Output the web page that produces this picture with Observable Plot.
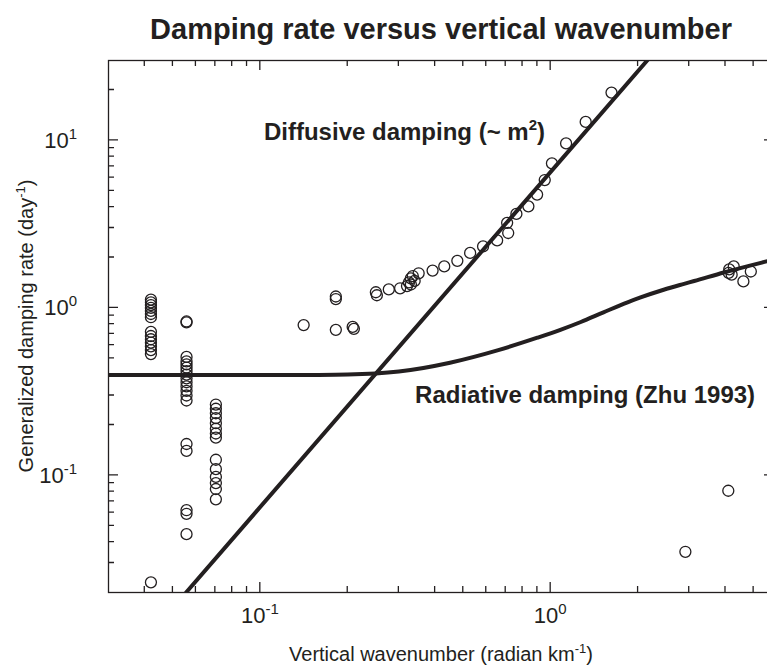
<!DOCTYPE html>
<html>
<head>
<meta charset="utf-8">
<script src="https://cdn.jsdelivr.net/npm/d3@7"></script>
<script src="https://cdn.jsdelivr.net/npm/@observablehq/plot@0.6"></script>
<style>
  html, body { margin: 0; padding: 0; background: #fff; overflow: hidden; }
  #chart { width: 767px; height: 669px; overflow: hidden; }
</style>
</head>
<body>
<div id="chart"></div>
<script>
// Generalized damping rate (day^-1) against vertical wavenumber m (radian km^-1)

// Low-wavenumber estimates, stacked in three columns of equal m
const columnWavenumbers = [0.042, 0.0557, 0.0703];
const columnA = [1.12, 1.08, 1.04, 1.0, 0.96, 0.92, 0.88, 0.72, 0.68, 0.65, 0.62, 0.59, 0.56, 0.53, 0.023];
const columnB = [0.83, 0.82, 0.51, 0.48, 0.46, 0.44, 0.42, 0.40, 0.38, 0.36, 0.34, 0.32, 0.30, 0.28, 0.154, 0.14, 0.062, 0.059, 0.0446];
const columnC = [0.265, 0.25, 0.235, 0.22, 0.205, 0.19, 0.178, 0.168, 0.124, 0.109, 0.098, 0.09, 0.083, 0.072];

// Mid-range estimates following the m^2 line
const midWavenumber = [0.141, 0.182, 0.182, 0.182, 0.208, 0.21, 0.25, 0.252, 0.277, 0.303, 0.32, 0.325, 0.33, 0.335, 0.33, 0.34, 0.351, 0.392, 0.43, 0.477, 0.528, 0.585, 0.654, 0.714, 0.708, 0.762, 0.838, 0.898, 0.954, 1.01, 1.13, 1.32, 1.62];
const midRate = [0.79, 1.17, 1.13, 0.74, 0.77, 0.75, 1.24, 1.19, 1.29, 1.31, 1.35, 1.42, 1.5, 1.55, 1.38, 1.45, 1.61, 1.67, 1.77, 1.91, 2.13, 2.33, 2.53, 2.8, 3.22, 3.64, 4.04, 4.75, 5.8, 7.3, 9.6, 12.9, 19.3];

// High-wavenumber estimates
const highWavenumber = [4.27, 4.1, 4.2, 4.89, 4.61, 4.12, 4.09, 2.91];
const highRate = [1.77, 1.62, 1.58, 1.65, 1.44, 1.7, 0.081, 0.035];

// Radiative damping curve (Zhu 1993)
const radiativeWavenumber = [0.03, 0.1, 0.15, 0.2, 0.3, 0.45, 0.66, 0.9, 1.08, 1.27, 1.52, 1.84, 2.04, 2.45, 2.88, 3.12, 3.95, 5.6, 5.9];
const radiativeRate = [0.397, 0.397, 0.398, 0.40, 0.417, 0.471, 0.56, 0.664, 0.74, 0.824, 0.941, 1.08, 1.155, 1.284, 1.392, 1.447, 1.628, 1.905, 1.949];

// Diffusive damping, proportional to m^2 (end points)
const diffusiveWavenumber = [0.0555, 2.15];
const diffusiveRate = [0.02, 30];

// Axis ticks
const xMajor = [0.1, 1];
const xMinor = [0.04, 0.05, 0.06, 0.07, 0.08, 0.09, 0.2, 0.3, 0.4, 0.5, 0.6, 0.7, 0.8, 0.9, 2, 3, 4, 5];
const yMajor = [0.1, 1, 10];
const yMinor = [0.03, 0.04, 0.05, 0.06, 0.07, 0.08, 0.09, 0.2, 0.3, 0.4, 0.5, 0.6, 0.7, 0.8, 0.9, 2, 3, 4, 5, 6, 7, 8, 9, 20];
const xTickExponents = ["-1", "0"];
const yTickExponents = ["-1", "0", "1"];

const ink = "#231f20";
const font = "'Liberation Sans', Arial, Helvetica, sans-serif";

const observations = [
  ...columnA.map(rate => ({m: columnWavenumbers[0], rate})),
  ...columnB.map(rate => ({m: columnWavenumbers[1], rate})),
  ...columnC.map(rate => ({m: columnWavenumbers[2], rate})),
  ...midWavenumber.map((m, i) => ({m, rate: midRate[i]})),
  ...highWavenumber.map((m, i) => ({m, rate: highRate[i]}))
];
const radiative = radiativeWavenumber.map((m, i) => ({m, rate: radiativeRate[i]}));
const diffusive = diffusiveWavenumber.map((m, i) => ({m, rate: diffusiveRate[i]}));

const chart = Plot.plot({
  width: 767,
  height: 669,
  marginLeft: 108,
  marginRight: -7,
  marginTop: 60,
  marginBottom: 77,
  x: {type: "log", domain: [0.03, 5.9], axis: null},
  y: {type: "log", domain: [0.02, 30], axis: null},
  style: {fontFamily: font, color: ink, background: "white"},
  marks: [
    Plot.line(radiative, {x: "m", y: "rate", curve: "monotone-x", stroke: ink, strokeWidth: 4, clip: true}),
    Plot.line(diffusive, {x: "m", y: "rate", stroke: ink, strokeWidth: 4, clip: true}),
    Plot.dot(observations, {x: "m", y: "rate", r: 5.5, stroke: ink, strokeWidth: 1.3, fill: "none"}),
    Plot.frame({stroke: ink, strokeWidth: 1.3})
  ]
});
document.getElementById("chart").appendChild(chart);

const X = chart.scale("x"), Y = chart.scale("y");
const [x0, x1] = X.range;
const [y0, y1] = Y.range; // y0 bottom, y1 top
const svg = d3.select(chart);

// Inward ticks on all four sides, as one path placed with the plot's scales
const tickPath = d3.path();
function xTick(v, len) {
  const px = X.apply(v);
  tickPath.moveTo(px, y0); tickPath.lineTo(px, y0 - len);
  tickPath.moveTo(px, y1); tickPath.lineTo(px, y1 + len);
}
function yTick(v, len) {
  const py = Y.apply(v);
  tickPath.moveTo(x0, py); tickPath.lineTo(x0 + len, py);
  tickPath.moveTo(x1, py); tickPath.lineTo(x1 - len, py);
}
xMajor.forEach(v => xTick(v, 10));
xMinor.forEach(v => xTick(v, 6));
yMajor.forEach(v => yTick(v, 10));
yMinor.forEach(v => yTick(v, 6));
svg.append("path")
  .attr("d", tickPath.toString())
  .attr("fill", "none")
  .attr("stroke", ink)
  .attr("stroke-width", 1.3);

// Power-of-ten labels and titles
const labels = svg.append("g").attr("fill", ink).attr("font-family", font);

function power(text, exp, supSize) {
  text.append("tspan").text("10");
  text.append("tspan").attr("dy", -9).attr("font-size", supSize).text(exp);
}
xMajor.forEach((v, i) => {
  const t = labels.append("text").attr("x", X.apply(v)).attr("y", y0 + 31)
    .attr("text-anchor", "middle").attr("font-size", 22);
  power(t, xTickExponents[i], 15);
});
yMajor.forEach((v, i) => {
  const t = labels.append("text").attr("x", x0 - 31).attr("y", Y.apply(v) + 8)
    .attr("text-anchor", "end").attr("font-size", 22);
  power(t, yTickExponents[i], 15);
});

function withSup(text, before, sup, after, supSize, raise) {
  text.append("tspan").text(before);
  text.append("tspan").attr("dy", -raise).attr("font-size", supSize).text(sup);
  text.append("tspan").attr("dy", raise).text(after);
}

// Axis titles
const xTitle = labels.append("text").attr("x", (x0 + x1) / 2).attr("y", y0 + 69)
  .attr("text-anchor", "middle").attr("font-size", 20);
withSup(xTitle, "Vertical wavenumber (radian km", "-1", ")", 13, 8);

const yTitle = labels.append("text")
  .attr("transform", `translate(33,${(y0 + y1) / 2}) rotate(-90)`)
  .attr("text-anchor", "middle").attr("font-size", 20);
withSup(yTitle, "Generalized damping rate (day", "-1", ")", 13, 8);

// Title
labels.append("text").attr("x", (x0 + x1) / 2).attr("y", 39)
  .attr("text-anchor", "middle").attr("font-size", 29).attr("font-weight", "bold")
  .text("Damping rate versus vertical wavenumber");

// Curve annotations, anchored in data coordinates
const diffLabel = labels.append("text").attr("x", X.apply(0.96)).attr("y", Y.apply(10))
  .attr("text-anchor", "end").attr("font-size", 24).attr("font-weight", "bold");
withSup(diffLabel, "Diffusive damping (~ m", "2", ")", 15, 10);

labels.append("text").attr("x", X.apply(5.08)).attr("y", Y.apply(0.27))
  .attr("text-anchor", "end").attr("font-size", 24).attr("font-weight", "bold")
  .text("Radiative damping (Zhu 1993)");
</script>
</body>
</html>
